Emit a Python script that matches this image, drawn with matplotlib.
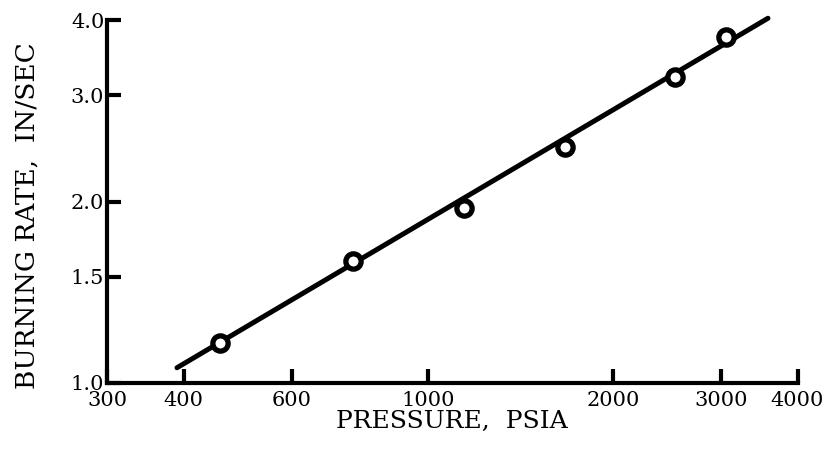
import matplotlib
matplotlib.use("Agg")
import matplotlib.pyplot as plt
from matplotlib.ticker import FixedLocator, FixedFormatter, NullLocator

# measured points (pressure psia, burning rate in/sec)
pressure = [459, 756, 1143, 1670, 2524, 3057]
rate = [1.165, 1.593, 1.950, 2.463, 3.218, 3.748]

# fitted line end points
fit_p = [390, 3580]
fit_r = [1.06, 4.03]

x_ticks = [300, 400, 600, 1000, 2000, 3000, 4000]
x_labels = ['300', '400', '600', '1000', '2000', '3000', '4000']
y_ticks = [1.0, 1.5, 2.0, 3.0, 4.0]
y_labels = ['1.0', '1.5', '2.0', '3.0', '4.0']

plt.rcParams['font.family'] = ['DejaVu Serif']

fig = plt.figure(figsize=(8.24, 4.49), dpi=100)
ax = fig.add_axes([0.1299, 0.147, 0.838, 0.808])
ax.set_xscale('log')
ax.set_yscale('log')
ax.set_xlim(300, 4000)
ax.set_ylim(1.0, 4.0)

ax.plot(fit_p, fit_r, '-', color='black', lw=3.6, clip_on=False, solid_capstyle='round')
ax.plot(pressure, rate, 'o', ms=11, mfc='white', mec='black', mew=3.8, clip_on=False)

ax.xaxis.set_major_locator(FixedLocator(x_ticks))
ax.xaxis.set_major_formatter(FixedFormatter(x_labels))
ax.xaxis.set_minor_locator(NullLocator())
ax.yaxis.set_major_locator(FixedLocator(y_ticks))
ax.yaxis.set_major_formatter(FixedFormatter(y_labels))
ax.yaxis.set_minor_locator(NullLocator())

for s in ['top', 'right']:
    ax.spines[s].set_visible(False)
for s in ['left', 'bottom']:
    ax.spines[s].set_linewidth(3.0)

ax.tick_params(axis='both', direction='in', length=10, width=3.0, labelsize=15)
ax.tick_params(axis='x', pad=6)
ax.tick_params(axis='y', pad=2)

ax.set_xlabel('PRESSURE,  PSIA', fontsize=18, labelpad=0)
ax.set_ylabel('BURNING RATE,  IN/SEC', fontsize=19)
ax.yaxis.set_label_coords(-0.098, 0.46)

fig.savefig('out.png', dpi=100)
